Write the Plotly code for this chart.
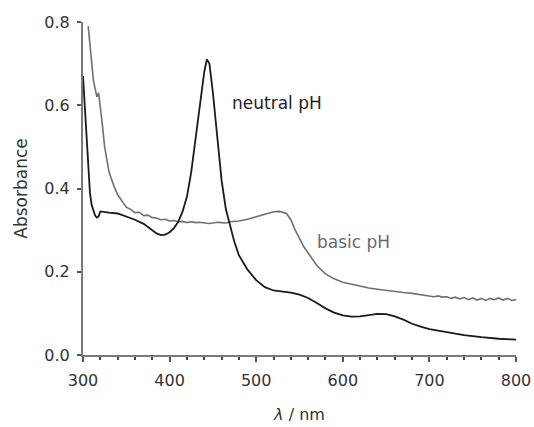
import plotly.graph_objects as go

# Neutral pH spectrum (wavelength nm, absorbance)
neutral_nm = [300, 302, 304, 306, 308, 310, 312, 314, 316, 318, 320, 325, 330, 340, 350, 360, 370,
              380, 385, 390, 395, 400, 405, 410, 415, 420, 425, 430, 435, 440, 443, 446, 450, 455,
              460, 465, 470, 475, 480, 490, 500, 510, 520, 530, 540, 550, 560, 570, 580, 590, 600,
              610, 620, 630, 640, 650, 660, 670, 680, 690, 700, 720, 740, 760, 780, 800]
neutral_abs = [0.67, 0.60, 0.52, 0.45, 0.39, 0.36, 0.345, 0.335, 0.33, 0.333, 0.345, 0.343, 0.342,
               0.340, 0.333, 0.325, 0.315, 0.300, 0.292, 0.288, 0.289, 0.295, 0.305, 0.32, 0.345,
               0.38, 0.44, 0.52, 0.60, 0.68, 0.71, 0.70, 0.63, 0.52, 0.42, 0.35, 0.31, 0.27, 0.24,
               0.205, 0.18, 0.163, 0.155, 0.153, 0.15, 0.145, 0.137, 0.125, 0.112, 0.102, 0.095,
               0.092, 0.093, 0.096, 0.099, 0.098, 0.093, 0.085, 0.075, 0.068, 0.062, 0.055, 0.048,
               0.043, 0.039, 0.037]

# Basic pH spectrum
basic_nm = [306, 308, 310, 312, 314, 316, 318, 320, 322, 325, 330, 335, 340, 345, 350, 355, 360,
            365, 370, 375, 380, 385, 390, 395, 400, 405, 410, 415, 420, 425, 430, 435, 440, 445,
            450, 455, 460, 465, 470, 475, 480, 490, 500, 510, 520, 527, 535, 540, 545, 550, 555,
            560, 570, 580, 590, 600, 610, 620, 630, 640, 650, 660, 670, 680, 690, 700, 705, 710,
            715, 720, 725, 730, 735, 740, 745, 750, 755, 760, 765, 770, 775, 780, 785, 790, 795, 800]
basic_abs = [0.79, 0.74, 0.70, 0.66, 0.64, 0.62, 0.63, 0.60, 0.56, 0.50, 0.44, 0.41, 0.385, 0.37,
             0.355, 0.350, 0.342, 0.343, 0.335, 0.336, 0.33, 0.329, 0.325, 0.326, 0.322, 0.323,
             0.320, 0.321, 0.318, 0.320, 0.318, 0.319, 0.318, 0.316, 0.317, 0.319, 0.318, 0.317,
             0.320, 0.321, 0.322, 0.326, 0.332, 0.338, 0.344, 0.345, 0.34, 0.325, 0.30, 0.28, 0.26,
             0.245, 0.215, 0.195, 0.183, 0.175, 0.17, 0.165, 0.161, 0.158, 0.155, 0.153, 0.150,
             0.148, 0.145, 0.143, 0.140, 0.142, 0.139, 0.140, 0.136, 0.139, 0.135, 0.138, 0.133,
             0.137, 0.132, 0.136, 0.131, 0.136, 0.133, 0.137, 0.132, 0.136, 0.131, 0.133]

fig = go.Figure()
fig.add_trace(go.Scatter(x=basic_nm, y=basic_abs, mode="lines",
                         line=dict(color="#707070", width=1.6), showlegend=False))
fig.add_trace(go.Scatter(x=neutral_nm, y=neutral_abs, mode="lines",
                         line=dict(color="#1a1a1a", width=1.8), showlegend=False))

FONT = "DejaVu Sans"
fig.add_annotation(x=469.5, y=0.606, text="neutral pH", showarrow=False, xanchor="left",
                   font=dict(size=17, color="#222222", family=FONT))
fig.add_annotation(x=567.5, y=0.272, text="basic pH", showarrow=False, xanchor="left",
                   font=dict(size=17, color="#6a6a6a", family=FONT))

fig.update_layout(
    width=534, height=427,
    margin=dict(l=83, r=18, t=22, b=72, autoexpand=False),
    paper_bgcolor="white", plot_bgcolor="white",
    font=dict(family=FONT, color="#333333"),
    xaxis=dict(range=[300, 800], tickvals=[300, 400, 500, 600, 700, 800], automargin=False,
               ticks="outside", ticklen=5, tickcolor="#555555", tickwidth=1.5,
               ticklabelstandoff=5,
               minor=dict(dtick=20, ticks="outside", ticklen=3, tickcolor="#444444", tickwidth=1.5),
               showline=True, linecolor="#7a7a7a", linewidth=2, showgrid=False, zeroline=False,
               tickfont=dict(size=16, color="#333333", family=FONT),
               title=dict(text="<i>λ</i> / nm", font=dict(size=16, color="#333333", family=FONT),
                          standoff=20)),
    yaxis=dict(range=[0, 0.8], tickvals=[0, 0.2, 0.4, 0.6, 0.8], tickformat=".1f", automargin=False,
               ticks="outside", ticklen=4, tickcolor="#555555", tickwidth=1.5, ticklabelstandoff=4,
               showline=True, linecolor="#7a7a7a", linewidth=2, showgrid=False, zeroline=False,
               tickfont=dict(size=16, color="#333333", family=FONT),
               title=dict(text="Absorbance", font=dict(size=17, color="#333333", family=FONT),
                          standoff=12)),
)

fig.write_html("out.html", config={"displayModeBar": False},
               post_script="document.body.style.margin='0';document.body.style.overflow='hidden';")
